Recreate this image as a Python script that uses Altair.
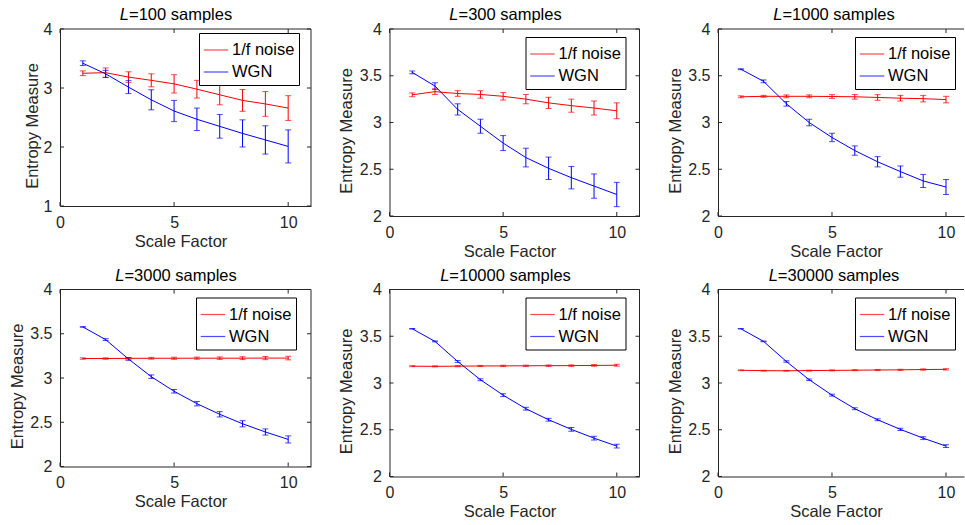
import altair as alt
import pandas as pd

# ---------------- data ----------------
scale_factor = [1, 2, 3, 4, 5, 6, 7, 8, 9, 10]
series_names = ["1/f noise", "WGN"]
sample_lengths = [100, 300, 1000, 3000, 10000, 30000]

noise_mean = [
    [3.25, 3.26, 3.185, 3.13, 3.07, 2.98, 2.885, 2.79, 2.73, 2.66],
    [3.296, 3.33, 3.31, 3.30, 3.28, 3.25, 3.21, 3.18, 3.155, 3.125],
    [3.275, 3.28, 3.28, 3.28, 3.278, 3.275, 3.268, 3.26, 3.255, 3.245],
    [3.22, 3.22, 3.222, 3.223, 3.223, 3.224, 3.224, 3.224, 3.225, 3.225],
    [3.18, 3.178, 3.18, 3.182, 3.183, 3.184, 3.185, 3.186, 3.188, 3.19],
    [3.136, 3.132, 3.131, 3.133, 3.135, 3.137, 3.139, 3.141, 3.144, 3.146],
]
noise_err = [
    [0.04, 0.08, 0.09, 0.11, 0.155, 0.15, 0.17, 0.185, 0.21, 0.21],
    [0.02, 0.03, 0.03, 0.04, 0.04, 0.05, 0.06, 0.07, 0.075, 0.085],
    [0.01, 0.01, 0.015, 0.015, 0.02, 0.025, 0.03, 0.03, 0.035, 0.035],
    [0.008, 0.008, 0.01, 0.01, 0.012, 0.012, 0.014, 0.016, 0.018, 0.02],
    [0.005, 0.005, 0.006, 0.006, 0.007, 0.007, 0.008, 0.008, 0.009, 0.01],
    [0.004, 0.004, 0.004, 0.005, 0.005, 0.005, 0.006, 0.006, 0.007, 0.007],
]
wgn_mean = [
    [3.42, 3.24, 3.015, 2.80, 2.61, 2.47, 2.35, 2.23, 2.12, 2.01],
    [3.536, 3.39, 3.14, 2.96, 2.78, 2.625, 2.51, 2.41, 2.32, 2.23],
    [3.57, 3.44, 3.20, 3.0, 2.84, 2.70, 2.58, 2.475, 2.375, 2.31],
    [3.577, 3.434, 3.215, 3.015, 2.85, 2.71, 2.59, 2.483, 2.39, 2.306],
    [3.58, 3.445, 3.23, 3.035, 2.87, 2.725, 2.607, 2.504, 2.41, 2.325],
    [3.58, 3.445, 3.23, 3.035, 2.87, 2.725, 2.607, 2.504, 2.41, 2.325],
]
wgn_err = [
    [0.04, 0.06, 0.11, 0.17, 0.18, 0.19, 0.2, 0.23, 0.24, 0.28],
    [0.015, 0.035, 0.06, 0.075, 0.08, 0.1, 0.12, 0.12, 0.13, 0.13],
    [0.005, 0.015, 0.025, 0.035, 0.045, 0.05, 0.055, 0.06, 0.07, 0.08],
    [0.003, 0.01, 0.015, 0.02, 0.02, 0.025, 0.03, 0.035, 0.035, 0.04],
    [0.003, 0.005, 0.01, 0.01, 0.015, 0.015, 0.015, 0.02, 0.02, 0.02],
    [0.002, 0.004, 0.008, 0.008, 0.01, 0.01, 0.01, 0.012, 0.015, 0.015],
]

x_ticks = [0, 5, 10]
y_ticks_wide = [1, 2, 3, 4]
y_ticks_narrow = [2, 2.5, 3, 3.5, 4]

# ---------------- styling / layout ----------------
FONT = "Liberation Sans"
INK = "#262626"
COLORS = ["#ff0000", "#0000ff"]
TICK_FS = 16
LABEL_FS = 16.5

widths = [251, 250, 246, 251, 250, 246]
heights = [177, 187, 187, 177, 187, 187]
x_max = [11, 11, 10.79, 11, 11, 10.79]
legend_pos = [(139, 4), (136, 8), (137, 8), (136, 8), (136, 8), (137, 8)]

# Arial/Liberation Sans advance widths (per 1000 em) for title layout
ADV = {"0": 556, "1": 556, "2": 556, "3": 556, "4": 556, "5": 556, "6": 556,
       "7": 556, "8": 556, "9": 556, "=": 584, " ": 278, "s": 500, "a": 556,
       "m": 833, "p": 556, "l": 222, "e": 556, "L": 556}


def text_width(s, fs):
    return sum(ADV.get(c, 556) for c in s) / 1000.0 * fs


def panel(i):
    W, H = widths[i], heights[i]
    rows = []
    for name, means, errs in ((series_names[0], noise_mean[i], noise_err[i]),
                              (series_names[1], wgn_mean[i], wgn_err[i])):
        for s, m, e in zip(scale_factor, means, errs):
            rows.append({"s": s, "series": name, "m": m, "lo": m - e, "hi": m + e})
    df = pd.DataFrame(rows)

    ydom = [1, 4] if i == 0 else [2, 4]
    yticks = y_ticks_wide if ydom[0] == 1 else y_ticks_narrow
    ytitle_x = -28 if ydom[0] == 1 else -43

    xs = alt.Scale(domain=[0, x_max[i]], nice=False, zero=False)
    ys = alt.Scale(domain=ydom, nice=False, zero=False)
    cs = alt.Scale(domain=series_names, range=COLORS)

    lx, ly = legend_pos[i]
    legend = alt.Legend(
        title=None, orient="none", legendX=lx, legendY=ly, direction="vertical",
        symbolType="stroke", symbolSize=600, symbolStrokeWidth=1.2,
        labelFont=FONT, labelFontSize=LABEL_FS, labelColor="black",
        padding=4, strokeColor="black", fillColor="white", rowPadding=-3,
        labelOffset=3, cornerRadius=0, labelLimit=200,
    )

    xaxis = alt.Axis(values=x_ticks, title="Scale Factor", labelPadding=21,
                     labelBaseline="alphabetic", titleX=W / 2 - 5, titleY=40,
                     titleBaseline="alphabetic", titleAlign="center",
                     labelFlush=False, labelOverlap=False)
    yaxis = alt.Axis(values=yticks, format="~g", title="Entropy Measure",
                     labelPadding=8, titleX=ytitle_x, titleY=H / 2 + 8,
                     titleBaseline="middle", titleAlign="center",
                     labelOverlap=False)

    base = alt.Chart(df)
    line = base.mark_line(strokeWidth=1).encode(
        x=alt.X("s:Q", scale=xs, axis=xaxis),
        y=alt.Y("m:Q", scale=ys, axis=yaxis),
        color=alt.Color("series:N", scale=cs, legend=legend),
    )
    bars = base.mark_rule(strokeWidth=1).encode(
        x="s:Q", y="lo:Q", y2="hi:Q", color=alt.Color("series:N", scale=cs))
    cap_lo = base.mark_tick(orient="horizontal", size=6, thickness=1).encode(
        x="s:Q", y="lo:Q", color=alt.Color("series:N", scale=cs))
    cap_hi = base.mark_tick(orient="horizontal", size=6, thickness=1).encode(
        x="s:Q", y="hi:Q", color=alt.Color("series:N", scale=cs))

    one = alt.Chart(pd.DataFrame({"k": [0]}))
    frame_top = one.mark_rule(color=INK, strokeWidth=1).encode(
        x=alt.value(0), x2=alt.value(W), y=alt.value(0))
    layers = [bars, cap_lo, cap_hi, line, frame_top]
    xt = alt.Chart(pd.DataFrame({"v": x_ticks}))
    yt = alt.Chart(pd.DataFrame({"v": yticks}))
    layers.append(xt.mark_rule(color=INK).encode(
        x=alt.X("v:Q", scale=xs), y=alt.value(H), y2=alt.value(H - 4)))
    layers.append(xt.mark_rule(color=INK).encode(
        x=alt.X("v:Q", scale=xs), y=alt.value(0), y2=alt.value(4)))
    layers.append(yt.mark_rule(color=INK).encode(
        y=alt.Y("v:Q", scale=ys), x=alt.value(0), x2=alt.value(4)))
    if x_max[i] >= 11:
        layers.append(one.mark_rule(color=INK, strokeWidth=1).encode(
            x=alt.value(W), y=alt.value(0), y2=alt.value(H)))
        layers.append(yt.mark_rule(color=INK).encode(
            y=alt.Y("v:Q", scale=ys), x=alt.value(W), x2=alt.value(W - 4)))

    # title: italic "L" + "=N samples"
    rest = "=%d samples" % sample_lengths[i]
    total = text_width("L" + rest, LABEL_FS)
    start = 116 - total / 2
    tl = one.mark_text(font=FONT, fontSize=LABEL_FS, fontStyle="italic",
                       align="left", baseline="alphabetic", color="black").encode(
        x=alt.value(start), y=alt.value(-9), text=alt.value("L"))
    tr = one.mark_text(font=FONT, fontSize=LABEL_FS, align="left",
                       baseline="alphabetic", color="black").encode(
        x=alt.value(start + text_width("L", LABEL_FS)), y=alt.value(-9),
        text=alt.value(rest))
    layers += [tl, tr]

    return alt.layer(*layers).properties(width=W, height=H)


panels = [panel(i) for i in range(6)]

chart = alt.concat(
    *panels, columns=3, spacing={"row": 73.5, "column": 78.5}, bounds="flush"
).resolve_scale(
    color="independent", x="independent", y="independent"
).resolve_legend(color="independent").properties(
    padding={"left": 9, "top": 7, "right": 0, "bottom": 0}
).configure(background="white").configure_view(stroke=None).configure_axis(
    grid=False, ticks=False, tickSize=0, domain=True, domainColor=INK, domainWidth=1,
    labelFont=FONT, labelFontSize=TICK_FS, labelColor=INK,
    titleFont=FONT, titleFontSize=LABEL_FS, titleFontWeight="normal", titleColor=INK,
)

chart.save("out.html", embed_options={"renderer": "svg", "actions": False})
